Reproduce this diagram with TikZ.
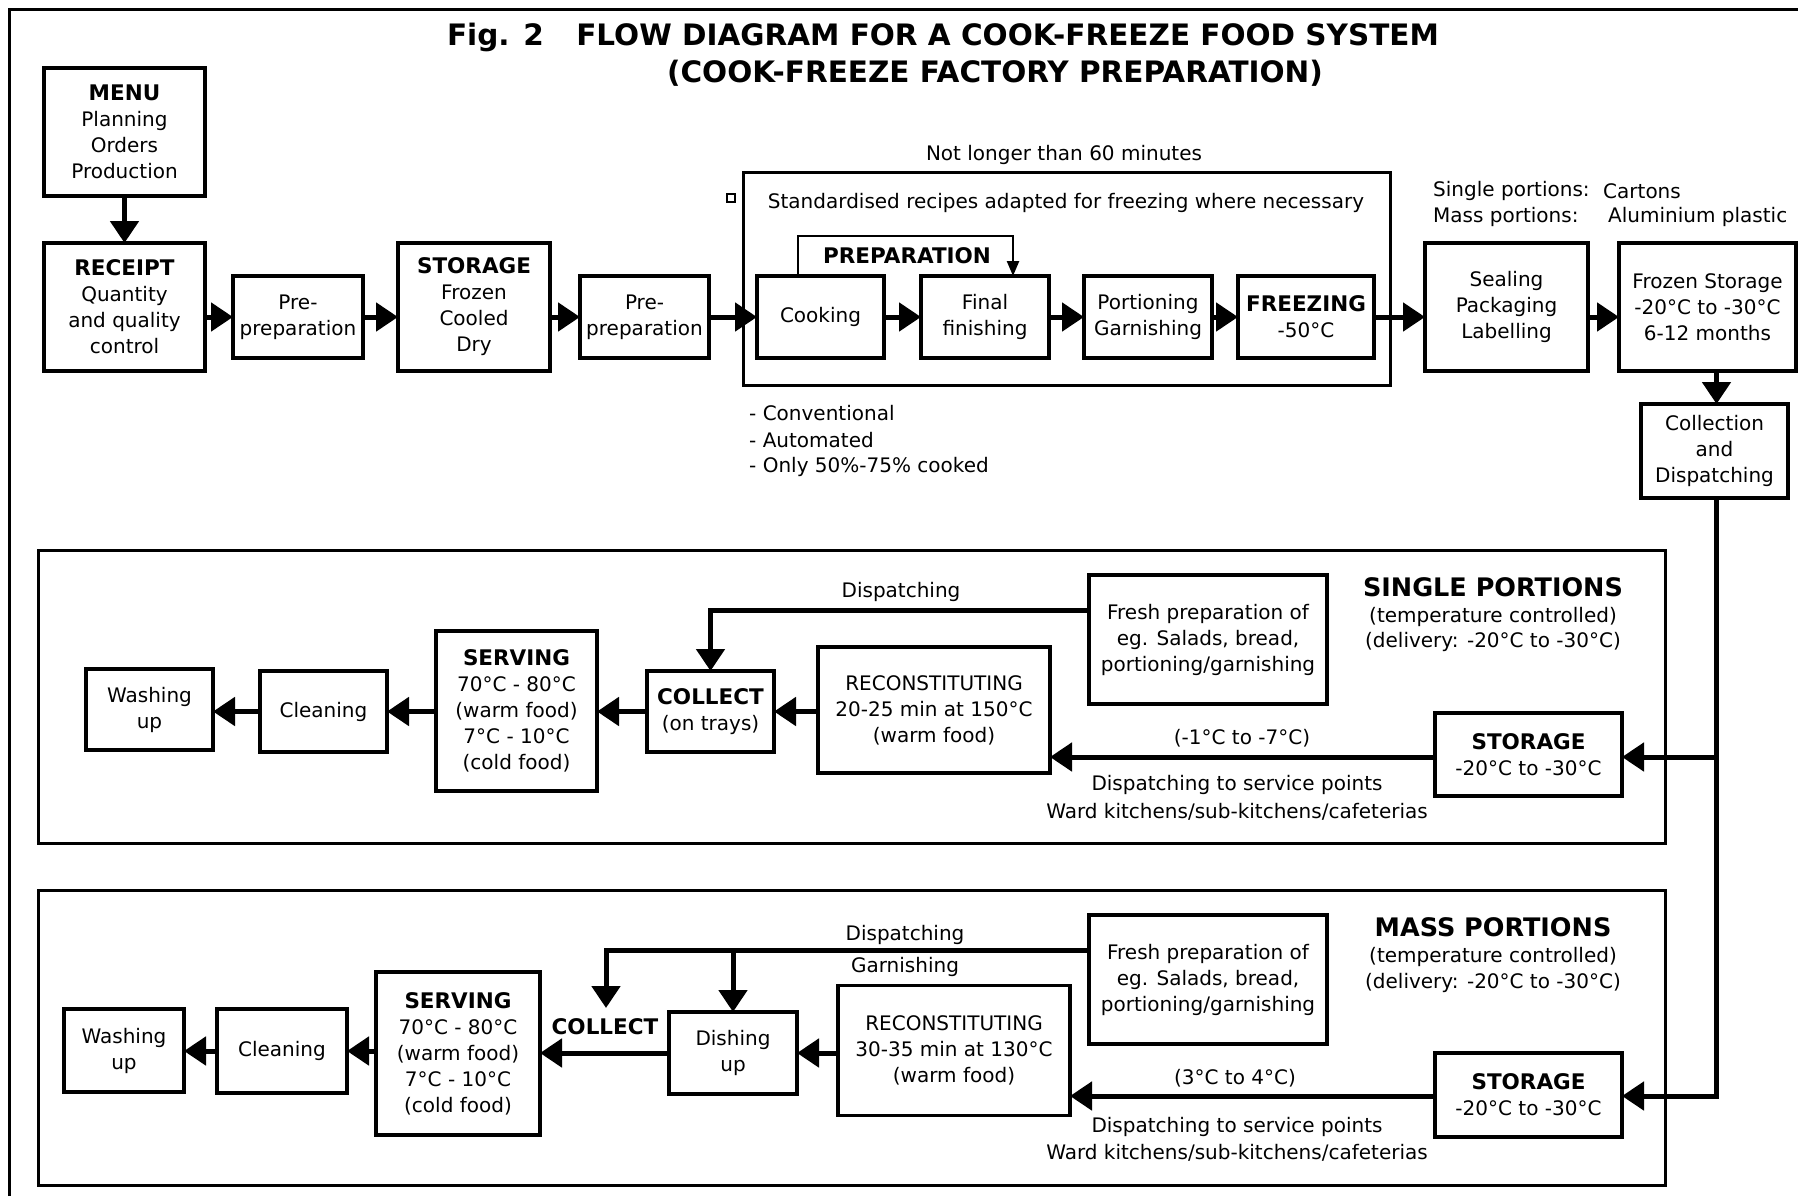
\documentclass[tikz,border=0pt]{standalone}
\usepackage{fontspec}
\setmainfont{DejaVu Sans}
\usetikzlibrary{arrows.meta,calc}
\newcommand\boxhd[1]{{\fontsize{21.5}{26}\selectfont\bfseries #1}}
\begin{document}
\begin{tikzpicture}[x=1pt,y=-1pt,
  box/.style={draw, line width=3.5pt, inner sep=0pt, outer sep=0pt, align=center, font=\fontsize{20}{26}\selectfont},
  frm/.style={draw, line width=3pt},
  arr/.style={line width=5pt, -{Triangle[length=22pt,width=28pt]}},
  thinarr/.style={line width=2.5pt, -{Triangle[length=15pt,width=12pt]}},
  lbl/.style={font=\fontsize{20}{26}\selectfont, align=center, inner sep=0pt},
  lbll/.style={font=\fontsize{20}{26}\selectfont, anchor=west, inner sep=0pt},
  bighd/.style={font=\fontsize{25.5}{30}\selectfont\bfseries, inner sep=0pt},
  ttl/.style={font=\fontsize{29.5}{34}\selectfont\bfseries, inner sep=0pt}]
\useasboundingbox (0,0) rectangle (1798,1196);
\fill[white] (0,0) rectangle (1798,1196);
% outer frame
\draw[line width=3pt] (9,1196) -- (9,10) -- (1798,10);
% title
\node[ttl] (t1) at (943,37) {Fig. 2\hspace{1.1em}FLOW DIAGRAM FOR A COOK-FREEZE FOOD SYSTEM};
\node[ttl] (t2) at (995,73) {(COOK-FREEZE FACTORY PREPARATION)};

% top row
\node[box, minimum width=161, minimum height=128] (menu) at (124.5,132) {\boxhd{MENU}\\Planning\\Orders\\Production};
\node[box, minimum width=161, minimum height=128] (rec) at (124.5,307) {\boxhd{RECEIPT}\\Quantity\\and quality\\control};
\node[box, minimum width=130, minimum height=82] (pre1) at (298,317) {Pre-\\preparation};
\node[box, minimum width=152, minimum height=128] (sto) at (474,307) {\boxhd{STORAGE}\\Frozen\\Cooled\\Dry};
\node[box, minimum width=129, minimum height=82] (pre2) at (644.5,317) {Pre-\\preparation};

\draw[line width=3pt] (743,172) rectangle (1390,385);
\node[draw, line width=1.5pt, minimum size=8pt, inner sep=0pt] (sq) at (731,198) {};
\node[lbl] (nl) at (1064,155) {Not longer than 60 minutes};
\node[lbl] (std) at (1066,203) {Standardised recipes adapted for freezing where necessary};

\node[box, minimum width=127, minimum height=82] (cook) at (820.5,317) {Cooking};
\node[box, minimum width=128, minimum height=82] (fin) at (985,317) {Final\\finishing};
\node[box, minimum width=128, minimum height=82] (por) at (1148,317) {Portioning\\Garnishing};
\node[box, minimum width=136, minimum height=82] (frz) at (1306,317) {\boxhd{FREEZING}\\-50°C};
\node[box, minimum width=163, minimum height=128] (seal) at (1506.5,307) {Sealing\\Packaging\\Labelling};
\node[box, minimum width=177, minimum height=128] (fst) at (1707.5,307) {Frozen Storage\\-20°C to -30°C\\6-12 months};
\node[box, minimum width=147, minimum height=94] (coll) at (1714.5,451) {Collection\\and\\Dispatching};

\node[inner sep=0pt, font=\fontsize{21.5}{26}\selectfont\bfseries] (prep) at (907,256) {PREPARATION};
\draw[thinarr] ([xshift=-22.5pt]cook.north) -- ++(0,-40) -| ([xshift=28pt]fin.north);

\node[lbll] (sp) at (1433,191) {Single portions:};
\node[lbll] (spc) at (1603,191) {Cartons};
\node[lbll] (mp) at (1433,217) {Mass portions:};
\node[lbll] (mpc) at (1608,217) {Aluminium plastic};

\node[lbll] (c1) at (749,413) {- Conventional};
\node[lbll] (c2) at (749,440) {- Automated};
\node[lbll] (c3) at (749,467) {- Only 50\%-75\% cooked};

\draw[arr] (menu.south) -- (rec.north);
\draw[arr] (rec.east |- pre1.west) -- (pre1.west);
\draw[arr] (pre1.east) -- (sto.west |- pre1.east);
\draw[arr] (sto.east |- pre2.west) -- (pre2.west);
\draw[arr] (pre2.east) -- (cook.west);
\draw[arr] (cook.east) -- (fin.west);
\draw[arr] (fin.east) -- (por.west);
\draw[arr] (por.east) -- (frz.west);
\draw[arr] (frz.east) -- (seal.west |- frz.east);
\draw[arr] (seal.east |- frz.east) -- (fst.west |- frz.east);
\draw[arr] ([xshift=2pt]coll.north |- fst.south) -- ([xshift=2pt]coll.north);

% ===== single portions =====
\draw[frm] (38,550) rectangle (1665,843);
\node[box, minimum width=127, minimum height=81] (wsh1) at (149.5,709.5) {Washing\\up};
\node[box, minimum width=127, minimum height=81] (cln1) at (323.5,711.5) {Cleaning};
\node[box, minimum width=161, minimum height=160] (srv1) at (516.5,711) {\boxhd{SERVING}\\70°C - 80°C\\(warm food)\\7°C - 10°C\\(cold food)};
\node[box, minimum width=127, minimum height=81] (col1) at (710.5,711.5) {\boxhd{COLLECT}\\(on trays)};
\node[box, minimum width=232, minimum height=126] (rc1) at (934,710) {RECONSTITUTING\\20-25 min at 150°C\\(warm food)};
\node[box, minimum width=238, minimum height=129] (fr1) at (1208,639.5) {Fresh preparation of\\eg. Salads, bread,\\portioning/garnishing};
\node[box, minimum width=187, minimum height=83] (st1) at (1528.5,754.5) {\boxhd{STORAGE}\\-20°C to -30°C};
\node[bighd] (sph) at (1493,587) {SINGLE PORTIONS};
\node[lbl] (sph2) at (1493,617) {(temperature controlled)};
\node[lbl] (sph3) at (1493,642) {(delivery: -20°C to -30°C)};
\node[lbl] (dl1) at (901,592) {Dispatching};
\node[lbl] (tp1) at (1242,738) {(-1°C to -7°C)};
\node[lbl] (ds1) at (1237,785) {Dispatching to service points};
\node[lbl] (wk1) at (1237,812) {Ward kitchens/sub-kitchens/cafeterias};

\draw[arr] (st1.west |- 0,757) -- (rc1.east |- 0,757);
\draw[arr] (rc1.west |- col1.east) -- (col1.east);
\draw[arr] (col1.west) -- (srv1.east |- col1.west);
\draw[arr] (srv1.west |- cln1.east) -- (cln1.east);
\draw[arr] (cln1.west) -- (wsh1.east |- cln1.west);
\draw[arr] (fr1.west) ++(0,-29.5) -| (col1.north);

% ===== mass portions =====
\draw[frm] (38,890) rectangle (1665,1185);
\node[box, minimum width=120, minimum height=83] (wsh2) at (124,1050.5) {Washing\\up};
\node[box, minimum width=130, minimum height=84] (cln2) at (282,1051) {Cleaning};
\node[box, minimum width=164, minimum height=163] (srv2) at (458,1053.5) {\boxhd{SERVING}\\70°C - 80°C\\(warm food)\\7°C - 10°C\\(cold food)};
\node[box, minimum width=128, minimum height=82] (dish) at (733,1053) {Dishing\\up};
\node[box, minimum width=232, minimum height=130] (rc2) at (954,1050.5) {RECONSTITUTING\\30-35 min at 130°C\\(warm food)};
\node[box, minimum width=238, minimum height=129] (fr2) at (1208,979.5) {Fresh preparation of\\eg. Salads, bread,\\portioning/garnishing};
\node[box, minimum width=187, minimum height=84] (st2) at (1528.5,1095) {\boxhd{STORAGE}\\-20°C to -30°C};
\node[bighd] (mph) at (1493,927) {MASS PORTIONS};
\node[lbl] (mph2) at (1493,957) {(temperature controlled)};
\node[lbl] (mph3) at (1493,983) {(delivery: -20°C to -30°C)};
\node[lbl] (dl2) at (905,935) {Dispatching};
\node[lbl] (gl2) at (905,967) {Garnishing};
\node[inner sep=0pt, font=\fontsize{21.5}{26}\selectfont\bfseries] (clbl) at (605,1027) {COLLECT};
\node[lbl] (tp2) at (1235,1078) {(3°C to 4°C)};
\node[lbl] (ds2) at (1237,1127) {Dispatching to service points};
\node[lbl] (wk2) at (1237,1153) {Ward kitchens/sub-kitchens/cafeterias};
\coordinate (ctop) at (606,1008);
\coordinate (gj) at (dish.north |- 0,950.5);

\draw[arr] (st2.west |- 0,1096) -- (rc2.east |- 0,1096);
\draw[arr] (rc2.west |- dish.east) -- (dish.east);
\draw[arr] (dish.west) -- (srv2.east |- dish.west);
\draw[arr] (srv2.west |- cln2.east) -- (cln2.east);
\draw[arr] (cln2.west) -- (wsh2.east |- cln2.west);
\draw[arr] (fr2.west) ++(0,-29) -| (ctop);
\draw[arr] (gj) -- (dish.north);

% collection to storages
\draw[arr, line join=miter] ([xshift=2pt]coll.south) |- (st2.east |- 0,1096);
\draw[arr] ([xshift=2pt]coll.south |- 0,757) -- (st1.east |- 0,757);
\end{tikzpicture}
\end{document}
